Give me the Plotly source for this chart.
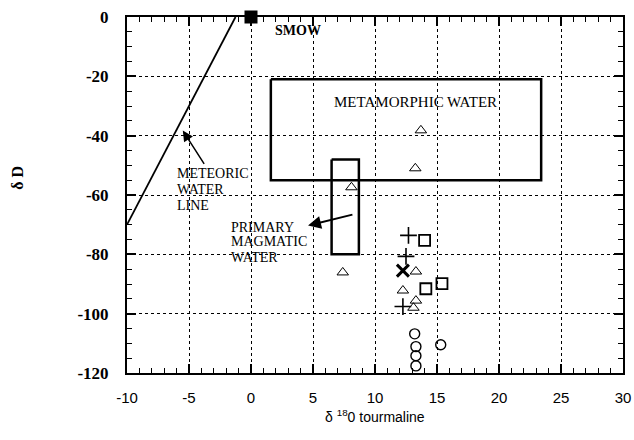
import plotly.graph_objects as go

# ---- data ----
mwl_x = [-10, -1.25]
mwl_y = [-70, 0]

smow_x = [0]
smow_y = [0]

meta_box_x = [1.6, 23.4, 23.4, 1.6, 1.6]
meta_box_y = [-21, -21, -55, -55, -21]

magm_box_x = [6.5, 8.7, 8.7, 6.5, 6.5]
magm_box_y = [-48, -48, -80, -80, -48]

tri_x = [13.7, 13.25, 7.4, 8.1, 13.3, 12.25, 13.3, 13.1]
tri_y = [-38.2, -51.0, -86.1, -57.4, -85.8, -92.2, -95.6, -98.0]

sq_x = [14.0, 14.1, 15.4]
sq_y = [-75.3, -91.6, -89.9]

plus_x = [12.7, 12.5, 12.25]
plus_y = [-73.6, -80.7, -97.6]

xmark_x = [12.25]
xmark_y = [-85.5]

circ_x = [13.2, 13.3, 13.3, 13.3, 15.3]
circ_y = [-106.8, -111.1, -114.2, -117.6, -110.5]

x_ticks = [-10, -5, 0, 5, 10, 15, 20, 25, 30]
y_ticks = [0, -20, -40, -60, -80, -100, -120]

meteoric_lines = ["METEORIC", "WATER", "LINE"]
meteoric_y = [-52.6, -58.3, -63.4]
magmatic_lines = ["PRIMARY", "MAGMATIC", "WATER"]
magmatic_y = [-70.8, -75.8, -80.9]

serif = "Liberation Serif"
sans = "Liberation Sans"

fig = go.Figure()

fig.add_trace(go.Scatter(x=mwl_x, y=mwl_y, mode="lines",
                         line=dict(color="black", width=1.8), hoverinfo="skip"))
fig.add_trace(go.Scatter(x=meta_box_x, y=meta_box_y, mode="lines",
                         line=dict(color="black", width=2.5), hoverinfo="skip"))
fig.add_trace(go.Scatter(x=magm_box_x, y=magm_box_y, mode="lines",
                         line=dict(color="black", width=2.5), hoverinfo="skip"))

fig.add_trace(go.Scatter(x=smow_x, y=smow_y, mode="markers", cliponaxis=False,
                         marker=dict(symbol="square", size=13, color="black")))
fig.add_trace(go.Scatter(x=tri_x, y=tri_y, mode="markers",
                         marker=dict(symbol="triangle-up-open", size=10, color="black",
                                     line=dict(width=1, color="black"))))
fig.add_trace(go.Scatter(x=sq_x, y=sq_y, mode="markers",
                         marker=dict(symbol="square-open", size=11, color="black",
                                     line=dict(width=1.8, color="black"))))
fig.add_trace(go.Scatter(x=plus_x, y=plus_y, mode="markers",
                         marker=dict(symbol="cross-thin-open", size=12, color="black",
                                     line=dict(width=1.6, color="black"))))
fig.add_trace(go.Scatter(x=xmark_x, y=xmark_y, mode="markers",
                         marker=dict(symbol="x-thin-open", size=12, color="black",
                                     line=dict(width=3, color="black"))))
fig.add_trace(go.Scatter(x=circ_x, y=circ_y, mode="markers",
                         marker=dict(symbol="circle-open", size=10, color="black",
                                     line=dict(width=1.4, color="black"))))

txt = dict(family=serif, size=14, color="black")
ann = [
    dict(x=1.8, y=-4.4, text="<b>SMOW</b>", xanchor="left", yanchor="middle",
         showarrow=False, font=dict(family=serif, size=14, color="black")),
    dict(x=6.55, y=-28.7, text="METAMORPHIC WATER", xanchor="left", yanchor="middle",
         showarrow=False, font=dict(family=serif, size=15, color="black")),
]
for t, yy in zip(meteoric_lines, meteoric_y):
    ann.append(dict(x=-6.15, y=yy, text=t, xanchor="left", yanchor="middle",
                    showarrow=False, font=txt))
for t, yy in zip(magmatic_lines, magmatic_y):
    ann.append(dict(x=-1.75, y=yy, text=t, xanchor="left", yanchor="middle",
                    showarrow=False, font=txt))
ann += [
    # arrows
    dict(x=-5.5, y=-38.3, ax=-3.7, ay=-50.0, axref="x", ayref="y", text="",
         showarrow=True, arrowhead=2, arrowsize=1.4, arrowwidth=1.5, arrowcolor="black"),
    dict(x=4.6, y=-70.3, ax=8.3, ay=-66.5, axref="x", ayref="y", text="",
         showarrow=True, arrowhead=2, arrowsize=1.3, arrowwidth=2, arrowcolor="black"),
    # axis titles
    dict(xref="paper", yref="paper", x=0.5, y=-0.12, text="δ <sup>18</sup>0 tourmaline",
         showarrow=False, xanchor="center", yanchor="middle",
         font=dict(family=sans, size=14, color="black")),
    dict(xref="paper", yref="paper", x=-0.22, y=0.548, text="<b>δ D</b>", textangle=-90,
         showarrow=False, xanchor="center", yanchor="middle",
         font=dict(family=serif, size=16, color="black")),
]

fig.update_layout(
    width=634, height=440,
    margin=dict(l=127, r=11, t=17, b=67, autoexpand=False),
    paper_bgcolor="white", plot_bgcolor="white",
    showlegend=False,
    annotations=ann,
    xaxis=dict(range=[-10, 30], tickmode="array", tickvals=x_ticks,
               ticktext=[str(v) for v in x_ticks], automargin=False,
               ticklabeloverflow="allow",
               showgrid=True, gridcolor="black", griddash="dot", gridwidth=1.3,
               showline=True, linecolor="black", linewidth=2, mirror="ticks",
               ticks="inside", ticklen=9, tickwidth=1.5, tickcolor="black",
               minor=dict(dtick=1, tick0=0, ticks="inside", ticklen=5, tickwidth=1.2,
                          tickcolor="black", showgrid=False),
               zeroline=False, ticklabelstandoff=10,
               tickfont=dict(family=sans, size=15, color="black")),
    yaxis=dict(range=[-120, 0], tickmode="array", tickvals=y_ticks,
               ticktext=[str(v) for v in y_ticks], automargin=False,
               ticklabeloverflow="allow",
               showgrid=True, gridcolor="black", griddash="dot", gridwidth=1.3,
               showline=True, linecolor="black", linewidth=2, mirror="ticks",
               ticks="inside", ticklen=9, tickwidth=1.5, tickcolor="black",
               minor=dict(dtick=5, tick0=0, ticks="inside", ticklen=5, tickwidth=1.2,
                          tickcolor="black", showgrid=False),
               zeroline=False, ticklabelstandoff=13,
               tickfont=dict(family=serif, size=17, color="black", weight="bold")),
)

# remove the default 8px page margin so the 634x440 figure fills the window
fig.write_html("out.html", config={"displayModeBar": False},
               post_script="document.body.style.margin='0';document.body.style.overflow='hidden';")
